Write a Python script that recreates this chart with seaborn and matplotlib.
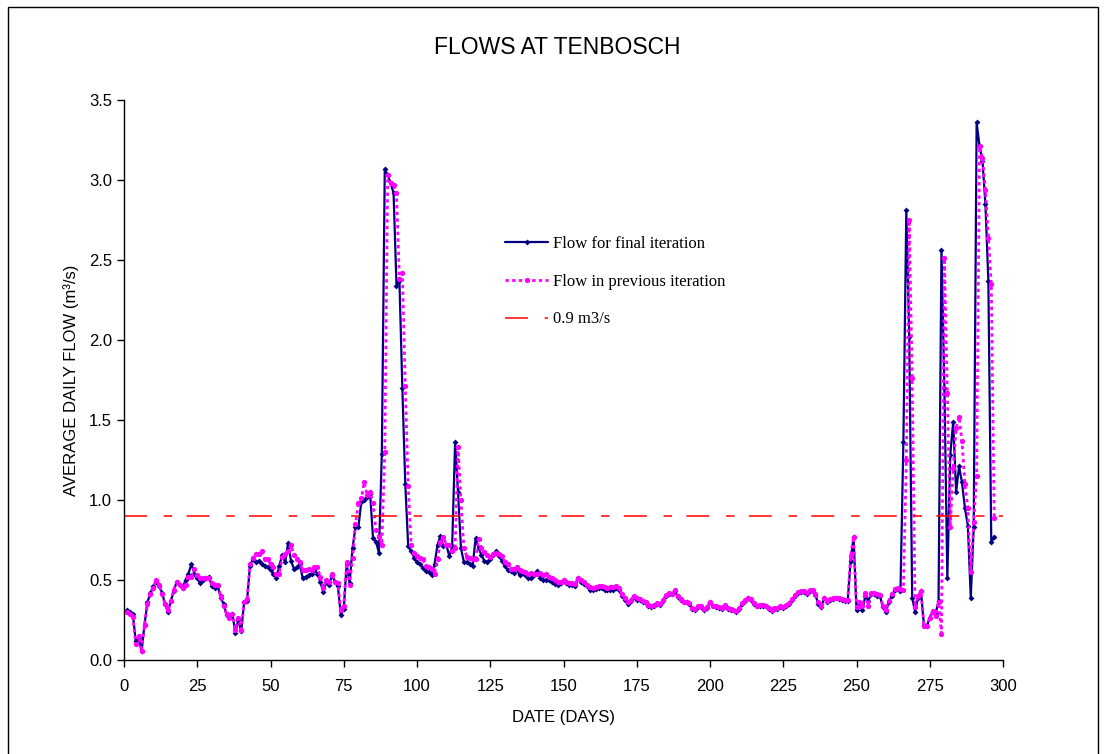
import matplotlib
matplotlib.use("Agg")
import matplotlib.pyplot as plt
import seaborn as sns
import pandas as pd
from matplotlib.patches import Rectangle

# days 1..297 of the run
days = list(range(1, 298))

final_flow = [
    0.31, 0.30, 0.29, 0.12, 0.14, 0.055, 0.22, 0.36, 0.42, 0.46,
    0.49, 0.46, 0.42, 0.35, 0.30, 0.37, 0.43, 0.49, 0.47, 0.45,
    0.50, 0.54, 0.60, 0.54, 0.51, 0.48, 0.50, 0.51, 0.52, 0.46,
    0.45, 0.46, 0.39, 0.35, 0.28, 0.27, 0.29, 0.17, 0.25, 0.18,
    0.36, 0.37, 0.59, 0.63, 0.61, 0.62, 0.60, 0.59, 0.58, 0.56,
    0.54, 0.51, 0.59, 0.655, 0.61, 0.73, 0.62, 0.57, 0.58, 0.60,
    0.51, 0.52, 0.53, 0.54, 0.565, 0.54, 0.49, 0.425, 0.49, 0.47,
    0.53, 0.49, 0.46, 0.28, 0.32, 0.60, 0.48, 0.70, 0.83, 0.83,
    0.99, 1.00, 1.02, 1.04, 0.76, 0.74, 0.67, 1.29, 3.07, 3.03,
    2.98, 2.92, 2.34, 2.37, 1.70, 1.10, 0.71, 0.68, 0.64, 0.61,
    0.60, 0.575, 0.555, 0.55, 0.53, 0.60, 0.72, 0.775, 0.71, 0.72,
    0.65, 0.71, 1.36, 1.05, 0.70, 0.61, 0.61, 0.60, 0.59, 0.76,
    0.70, 0.655, 0.62, 0.61, 0.63, 0.655, 0.68, 0.65, 0.62, 0.585,
    0.565, 0.555, 0.545, 0.57, 0.53, 0.545, 0.53, 0.515, 0.51, 0.53,
    0.555, 0.51, 0.50, 0.50, 0.50, 0.49, 0.475, 0.47, 0.48, 0.50,
    0.48, 0.47, 0.47, 0.465, 0.51, 0.49, 0.475, 0.46, 0.44, 0.44,
    0.445, 0.45, 0.45, 0.44, 0.44, 0.44, 0.44, 0.45, 0.435, 0.40,
    0.375, 0.35, 0.37, 0.395, 0.375, 0.375, 0.36, 0.355, 0.34, 0.33,
    0.34, 0.35, 0.345, 0.37, 0.40, 0.415, 0.41, 0.43, 0.395, 0.375,
    0.36, 0.36, 0.35, 0.32, 0.315, 0.33, 0.33, 0.315, 0.325, 0.36,
    0.335, 0.33, 0.325, 0.32, 0.34, 0.32, 0.315, 0.31, 0.30, 0.32,
    0.35, 0.37, 0.385, 0.375, 0.35, 0.335, 0.34, 0.34, 0.335, 0.32,
    0.305, 0.32, 0.32, 0.33, 0.325, 0.34, 0.35, 0.375, 0.40, 0.42,
    0.425, 0.425, 0.415, 0.43, 0.43, 0.405, 0.35, 0.33, 0.39, 0.36,
    0.375, 0.38, 0.385, 0.38, 0.375, 0.37, 0.37, 0.62, 0.77, 0.315,
    0.35, 0.31, 0.40, 0.37, 0.41, 0.41, 0.40, 0.40, 0.33, 0.30,
    0.36, 0.40, 0.435, 0.445, 0.43, 1.36, 2.81, 2.02, 0.39, 0.30,
    0.39, 0.43, 0.22, 0.21, 0.265, 0.30, 0.29, 0.37, 2.56, 1.70,
    0.51, 1.28, 1.49, 1.05, 1.21, 1.11, 0.95, 0.84, 0.39, 0.83,
    3.36, 3.21, 3.12, 2.85, 2.37, 0.735, 0.77,
]

previous_flow = [
    0.30, 0.29, 0.27, 0.10, 0.15, 0.055, 0.22, 0.35, 0.41, 0.45,
    0.50, 0.47, 0.41, 0.35, 0.31, 0.37, 0.44, 0.49, 0.47, 0.45,
    0.47, 0.52, 0.52, 0.57, 0.53, 0.51, 0.51, 0.51, 0.51, 0.48,
    0.47, 0.47, 0.40, 0.34, 0.29, 0.26, 0.29, 0.19, 0.26, 0.19,
    0.36, 0.38, 0.60, 0.64, 0.66, 0.66, 0.68, 0.63, 0.63, 0.60,
    0.58, 0.54, 0.54, 0.645, 0.665, 0.68, 0.72, 0.655, 0.63, 0.61,
    0.56, 0.56, 0.57, 0.56, 0.58, 0.58, 0.52, 0.45, 0.50, 0.49,
    0.54, 0.49, 0.48, 0.31, 0.34, 0.61, 0.47, 0.64, 0.85, 0.98,
    1.01, 1.11, 1.03, 1.05, 0.98, 0.81, 0.77, 0.72, 1.30, 3.03,
    2.98, 2.97, 2.92, 2.38, 2.42, 1.71, 1.09, 0.72, 0.67, 0.65,
    0.64, 0.63, 0.59, 0.58, 0.57, 0.54, 0.63, 0.74, 0.77, 0.72,
    0.72, 0.68, 0.70, 1.33, 1.00, 0.70, 0.645, 0.64, 0.63, 0.63,
    0.755, 0.70, 0.675, 0.655, 0.645, 0.66, 0.67, 0.665, 0.65, 0.615,
    0.60, 0.57, 0.57, 0.58, 0.56, 0.555, 0.55, 0.54, 0.545, 0.535,
    0.535, 0.545, 0.53, 0.54, 0.52, 0.51, 0.50, 0.49, 0.49, 0.50,
    0.49, 0.48, 0.48, 0.475, 0.515, 0.50, 0.485, 0.47, 0.455, 0.45,
    0.455, 0.46, 0.46, 0.455, 0.45, 0.455, 0.455, 0.46, 0.45, 0.41,
    0.385, 0.36, 0.375, 0.40, 0.385, 0.38, 0.37, 0.36, 0.345, 0.335,
    0.345, 0.355, 0.35, 0.375, 0.405, 0.42, 0.415, 0.435, 0.40, 0.38,
    0.365, 0.365, 0.355, 0.325, 0.32, 0.335, 0.335, 0.32, 0.33, 0.365,
    0.34, 0.335, 0.33, 0.325, 0.345, 0.325, 0.32, 0.315, 0.305, 0.325,
    0.355, 0.375, 0.39, 0.38, 0.355, 0.34, 0.345, 0.345, 0.34, 0.325,
    0.31, 0.325, 0.325, 0.335, 0.33, 0.345, 0.355, 0.38, 0.405, 0.425,
    0.43, 0.43, 0.42, 0.435, 0.435, 0.41, 0.36, 0.335, 0.39, 0.37,
    0.38, 0.385, 0.39, 0.385, 0.38, 0.375, 0.375, 0.65, 0.77, 0.33,
    0.36, 0.34, 0.42, 0.34, 0.42, 0.42, 0.41, 0.405, 0.34, 0.31,
    0.37, 0.41, 0.445, 0.45, 0.445, 0.44, 1.25, 2.75, 1.76, 0.33,
    0.40, 0.43, 0.21, 0.21, 0.265, 0.305, 0.275, 0.36, 0.165, 2.51,
    1.67, 0.83, 1.20, 1.45, 1.52, 1.37, 1.10, 0.95, 0.55, 0.86,
    1.15, 3.21, 3.14, 2.94, 2.64, 2.35, 0.89,
]

threshold = 0.9
x_ticks = list(range(0, 301, 25))
y_ticks = [0.0, 0.5, 1.0, 1.5, 2.0, 2.5, 3.0, 3.5]

sns.set_style("ticks")
plt.rcParams['font.family'] = ['Liberation Sans', 'DejaVu Sans']
plt.rcParams['text.color'] = 'black'
plt.rcParams['axes.labelcolor'] = 'black'

df = pd.DataFrame({'day': days, 'final': final_flow, 'previous': previous_flow})

fig = plt.figure(figsize=(11.04, 7.54), dpi=100)
ax = fig.add_axes([124 / 1104, 1 - 660 / 754, (1003 - 124) / 1104, (660 - 100) / 754])

sns.lineplot(data=df, x='day', y='final', ax=ax, color='#000080', lw=1.6,
             marker='D', markersize=3, markeredgewidth=0,
             label='Flow for final iteration')
sns.lineplot(data=df, x='day', y='previous', ax=ax, color='#FF00FF', lw=2.0,
             linestyle=(0, (1.2, 1.2)), marker='o', markersize=3.8,
             markeredgewidth=0, label='Flow in previous iteration')
ax.axhline(threshold, color='#FF0000', lw=1.1,
           linestyle=(0, (15, 11, 5.5, 9.4)), label='0.9 m3/s')

ax.set_xlim(0, 300)
ax.set_ylim(0, 3.5)
ax.set_xticks(x_ticks)
ax.set_yticks(y_ticks)
ax.set_yticklabels([f"{v:.1f}" for v in y_ticks])
ax.tick_params(direction='out', length=5, width=1, labelsize=12, colors='black')
ax.tick_params(axis='x', pad=8.5)
sns.despine(ax=ax)
for s in ['left', 'bottom']:
    ax.spines[s].set_color('black')
    ax.spines[s].set_linewidth(1)

ax.set_xlabel('DATE (DAYS)', fontsize=12, labelpad=12)
ax.set_ylabel('AVERAGE DAILY FLOW (m³/s)', fontsize=12, labelpad=7)

fig.text(557 / 1104, 1 - 47 / 754, 'FLOWS AT TENBOSCH', fontsize=16.5,
         ha='center', va='center')

ax.legend(loc='upper left', bbox_to_anchor=(505 / 1104, 1 - 236 / 754),
          bbox_transform=fig.transFigure, frameon=False,
          prop={'family': 'Liberation Serif', 'size': 12},
          handlelength=2.6, handletextpad=0.3, labelspacing=1.3,
          borderpad=0, borderaxespad=0)

# outer chart border
fig.add_artist(Rectangle((8 / 1104, -0.01), (1098 - 8) / 1104, 1 - 7 / 754 + 0.01,
                         transform=fig.transFigure, fill=False, lw=1,
                         edgecolor='black'))

fig.savefig('out.png', dpi=100)
